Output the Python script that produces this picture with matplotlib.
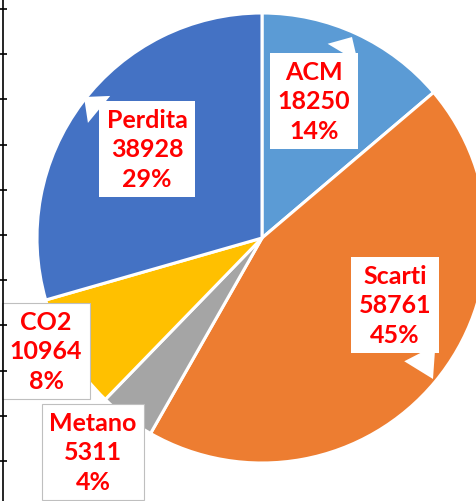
import numpy as np
import matplotlib.pyplot as plt

# Ripartizione (valori assoluti) e percentuali riportate nelle etichette
categorie = ['ACM', 'Scarti', 'Metano', 'CO2', 'Perdita']
valori = [18250, 58761, 5311, 10964, 38928]
percentuali = ['14%', '45%', '4%', '8%', '29%']
colori = ['#5B9BD5', '#ED7D31', '#A5A5A5', '#FFC000', '#4472C4']

# posizione delle etichette e punta del fumetto (pixel, origine in alto a sinistra)
pos_etichette = [(314, 102), (395, 306), (93, 453), (46, 352), (147, 150)]
punte = [(352, 38), (433, 380), None, None, (84, 98)]
bordi = ['none', 'none', '#BFBFBF', '#BFBFBF', 'none']

W, H = 477, 502
CX, CY, R = 262, 239, 225


def px(p):
    # pixel -> coordinate dati (raggio della torta = 1)
    return ((p[0] - CX) / R, (CY - p[1]) / R)


fig = plt.figure(figsize=(W / 100, H / 100), dpi=100)
ax = fig.add_axes([0, 0, 1, 1])
ax.pie(valori, colors=colori, startangle=90, counterclock=False, radius=1,
       wedgeprops=dict(edgecolor='white', linewidth=2.2))
ax.set_xlim(-CX / R, (W - CX) / R)
ax.set_ylim((CY - H) / R, CY / R)
ax.set_aspect('auto')
ax.axis('off')

for nome, v, pct, pos, punta, ec in zip(categorie, valori, percentuali,
                                        pos_etichette, punte, bordi):
    testo = f'{nome}\n{v}\n{pct}'
    kw = dict(ha='center', va='center', color='#FF0000', fontsize=18,
              fontweight='bold', family=['Lato', 'DejaVu Sans'], linespacing=1.33,
              bbox=dict(boxstyle='square,pad=0.3', fc='white', ec=ec, lw=0.8))
    if punta is None:
        ax.text(*px(pos), testo, **kw)
    else:
        ax.annotate(testo, xy=px(punta), xytext=px(pos), **kw,
                    arrowprops=dict(arrowstyle='wedge,tail_width=1.4,shrink_factor=0.5',
                                    fc='white', ec='none', shrinkA=0, shrinkB=0))

# asse verticale residuo sul bordo sinistro
ax2 = fig.add_axes([3 / W, 0, 0.0001, 1])
ax2.set_ylim(H, 0)
ax2.set_yticks(np.arange(10, H, 45.2))
ax2.set_yticklabels([])
ax2.set_xticks([])
for s in ['top', 'right', 'bottom']:
    ax2.spines[s].set_visible(False)
ax2.spines['left'].set_linewidth(1.2)
ax2.tick_params(axis='y', direction='inout', length=6, width=1.2)
ax2.patch.set_visible(False)

fig.savefig('out.png', dpi=100)
